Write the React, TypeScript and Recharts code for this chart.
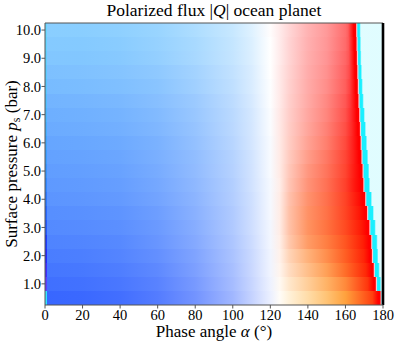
import { ScatterChart, Scatter, XAxis, YAxis, ReferenceArea, ReferenceLine } from 'recharts';

// surface pressure of each row (bar), bottom to top
const pressures = [0.5, 1.0, 1.5, 2.0, 2.5, 3.0, 3.5, 4.0, 4.5, 5.0, 5.5, 6.0, 6.5, 7.0, 7.5, 8.0, 8.5, 9.0, 9.5, 10.0];
const xTicks = [0, 20, 40, 60, 80, 100, 120, 140, 160, 180];
const yTicks = [1, 2, 3, 4, 5, 6, 7, 8, 9, 10];

// phase angles where the rows are sampled
const alphaKnots = [1, 20, 40, 60, 80, 100, 110, 120, 125, 130, 140, 150, 160];

// signed, normalised Q at each knot (negative = blue, positive = warm)
const qValues = [
  [-0.78, -0.77, -0.74, -0.67, -0.55, -0.37, -0.23, -0.08, 0.03, 0.15, 0.34, 0.54, 0.76],
  [-0.75, -0.74, -0.71, -0.65, -0.53, -0.35, -0.22, -0.07, 0.05, 0.2, 0.4, 0.6, 0.77],
  [-0.73, -0.72, -0.69, -0.63, -0.51, -0.34, -0.21, -0.06, 0.07, 0.24, 0.46, 0.66, 0.84],
  [-0.71, -0.7, -0.67, -0.61, -0.5, -0.33, -0.21, -0.06, 0.08, 0.28, 0.52, 0.7, 0.86],
  [-0.69, -0.68, -0.66, -0.59, -0.48, -0.32, -0.2, -0.05, 0.09, 0.32, 0.6, 0.74, 0.87],
  [-0.67, -0.66, -0.64, -0.58, -0.47, -0.31, -0.19, -0.05, 0.1, 0.34, 0.62, 0.75, 0.87],
  [-0.66, -0.65, -0.63, -0.57, -0.46, -0.31, -0.19, -0.04, 0.1, 0.34, 0.6, 0.72, 0.86],
  [-0.64, -0.63, -0.61, -0.55, -0.45, -0.3, -0.19, -0.04, 0.1, 0.32, 0.57, 0.7, 0.85],
  [-0.63, -0.62, -0.6, -0.54, -0.44, -0.3, -0.18, -0.04, 0.09, 0.29, 0.53, 0.67, 0.83],
  [-0.62, -0.61, -0.59, -0.53, -0.43, -0.29, -0.18, -0.03, 0.1, 0.27, 0.5, 0.64, 0.81],
  [-0.61, -0.6, -0.58, -0.52, -0.43, -0.29, -0.18, -0.03, 0.1, 0.25, 0.46, 0.61, 0.79],
  [-0.6, -0.59, -0.57, -0.52, -0.42, -0.28, -0.17, -0.03, 0.1, 0.23, 0.42, 0.57, 0.76],
  [-0.58, -0.57, -0.55, -0.5, -0.41, -0.27, -0.17, -0.02, 0.1, 0.22, 0.39, 0.54, 0.73],
  [-0.57, -0.56, -0.54, -0.49, -0.4, -0.27, -0.17, -0.02, 0.1, 0.21, 0.37, 0.51, 0.7],
  [-0.55, -0.54, -0.52, -0.47, -0.39, -0.26, -0.16, -0.01, 0.09, 0.2, 0.35, 0.49, 0.67],
  [-0.53, -0.52, -0.5, -0.46, -0.37, -0.25, -0.15, -0.01, 0.09, 0.19, 0.34, 0.46, 0.64],
  [-0.51, -0.5, -0.48, -0.44, -0.36, -0.24, -0.15, 0.0, 0.09, 0.18, 0.33, 0.44, 0.62],
  [-0.49, -0.49, -0.47, -0.42, -0.34, -0.23, -0.14, 0.0, 0.08, 0.17, 0.32, 0.42, 0.6],
  [-0.48, -0.48, -0.46, -0.41, -0.34, -0.23, -0.14, 0.0, 0.08, 0.17, 0.31, 0.41, 0.58],
  [-0.46, -0.46, -0.44, -0.4, -0.32, -0.22, -0.13, 0.01, 0.08, 0.16, 0.3, 0.4, 0.57],
];

// hue of the blue side, one per row
const blueHue = [226, 225, 224, 223, 222, 221, 220, 219, 218, 217, 216, 215, 214, 213, 212, 210, 209, 207, 206, 205];

// hue of the warm side at 125, 130, 140, 150, 160 and just before the peak
const warmHue = [
  [38, 38, 36, 34, 31, 12],
  [32, 32, 31, 30, 24, 10],
  [24, 26, 27, 26, 19, 8],
  [20, 24, 25, 22, 16, 7],
  [18, 20, 21, 19, 14, 6],
  [16, 18, 19, 16, 11, 5],
  [15, 17, 17, 14, 9, 4],
  [14, 15, 15, 12, 8, 3],
  [13, 13, 12, 10, 6, 2],
  [12, 12, 11, 9, 6, 2],
  [11, 11, 10, 8, 5, 2],
  [9, 9, 8, 7, 4, 1],
  [7, 7, 6, 5, 3, 1],
  [5, 5, 4, 4, 2, 0],
  [4, 4, 3, 3, 1, 0],
  [3, 3, 2, 2, 1, 0],
  [2, 2, 1, 1, 0, 0],
  [1, 1, 1, 0, 0, 0],
  [0, 0, 0, 0, 0, 0],
  [0, 0, 0, 0, 0, 0],
];

// Q four degrees before the peak
const preRedQ = [0.94, 0.95, 0.97, 0.97, 0.98, 0.98, 0.97, 0.96, 0.95, 0.93, 0.9, 0.88, 0.85, 0.82, 0.78, 0.74, 0.7, 0.67, 0.65, 0.63];
// phase angle where the red maximum ends
const peakAlpha = [178.4, 175.9, 174.8, 173.8, 173.4, 172.4, 171.2, 170.2, 169.2, 168.8, 168.2, 167.8, 167.4, 167.0, 166.6, 166.3, 166.0, 165.8, 165.6, 165.4];
// width (deg) of the sign-flip band after the peak
const cyanWidth = [0.6, 1.2, 1.5, 1.8, 1.8, 1.8, 2.0, 2.0, 2.0, 2.0, 2.0, 1.8, 1.6, 1.4, 1.2, 1.0, 0.9, 0.8, 0.8, 0.8];

// first column (alpha = 0)
const firstColumnQ = [-0.8, -0.76, -0.82, -0.86, -0.88, -0.86, -0.84, -0.82, -0.8, -0.78, -0.76, -0.74, -0.72, -0.7, -0.68, -0.66, -0.64, -0.62, -0.6, -0.58];
const firstColumnHue = [188, 250, 245, 238, 232, 225, 222, 218, 215, 212, 210, 208, 206, 204, 202, 200, 199, 198, 197, 196];

const RED = 'hsl(0, 100%, 50%)';
const PINK = 'hsl(350, 100%, 90%)';
const CYAN = 'hsl(184, 100%, 55%)';
const LIGHT = 'hsl(185, 100%, 94%)';
const FONT = '"Liberation Serif", "Times New Roman", serif';
const TICK_SIZE = 14.5;

const toColor = (q: number, hue: number) => `hsl(${hue}, 100%, ${100 - 50 * Math.abs(q)}%)`;

function rowStops(i: number) {
  const stops: { offset: number; color: string }[] = [];
  const add = (alpha: number, color: string) =>
    stops.push({ offset: Math.min(Math.max(alpha / 180, 0), 1), color });

  const first = toColor(firstColumnQ[i], firstColumnHue[i]);
  add(0, first);
  add(1, first);
  alphaKnots.forEach((a, j) => {
    const q = qValues[i][j];
    const hue = q < 0 ? blueHue[i] : warmHue[i][Math.max(0, j - 8)];
    add(a, toColor(q, hue));
  });
  const peak = peakAlpha[i];
  const cw = cyanWidth[i];
  add(peak - 4, toColor(preRedQ[i], warmHue[i][5]));
  add(peak - 1, RED);
  add(peak, RED);
  add(peak + 0.6, PINK);
  add(peak + 1.2, CYAN);
  add(peak + 1.2 + cw, CYAN);
  add(peak + 2 + cw, LIGHT);
  add(180, LIGHT);
  return stops;
}

const rowPoints = pressures.map((p) => ({ alpha: 0, p }));

const XTick = ({ x, y, payload }: any) => (
  <text x={x} y={y} dy="0.71em" textAnchor="middle" fontSize={TICK_SIZE} fontFamily={FONT} fill="#000">
    {payload.value}
  </text>
);

const YTick = ({ x, y, payload }: any) => (
  <text x={x} y={y} dy="0.36em" textAnchor="end" fontSize={TICK_SIZE} fontFamily={FONT} fill="#000">
    {Number(payload.value).toFixed(1)}
  </text>
);

export default function App() {
  return (
    <div style={{ position: 'absolute', left: 0, top: 0, fontFamily: FONT }}>
      <ScatterChart width={399} height={343} margin={{ top: 23, right: 16, bottom: 0, left: 0 }}>
        <defs>
          {pressures.map((p, i) => (
            <linearGradient key={p} id={`row-${i}`} x1="0" y1="0" x2="1" y2="0">
              {rowStops(i).map((s, k) => (
                <stop key={k} offset={s.offset} stopColor={s.color} />
              ))}
            </linearGradient>
          ))}
        </defs>
        {pressures.map((p, i) => (
          <ReferenceArea
            key={p}
            x1={0}
            x2={180}
            y1={p - 0.25}
            y2={p + 0.25}
            fill={`url(#row-${i})`}
            fillOpacity={1}
            stroke="none"
            shapeRendering="crispEdges"
          />
        ))}
        <XAxis
          type="number"
          dataKey="alpha"
          domain={[0, 180]}
          ticks={xTicks}
          height={38}
          tickSize={3.5}
          tickMargin={1}
          stroke="#555"
          tick={<XTick />}
        />
        <YAxis
          type="number"
          dataKey="p"
          domain={[0.25, 10.25]}
          ticks={yTicks}
          width={45}
          tickSize={3.5}
          tickMargin={0.5}
          stroke="#555"
          tick={<YTick />}
        />
        <ReferenceLine y={10.25} stroke="#555" strokeWidth={1} />
        <ReferenceLine x={180} stroke="#000" strokeWidth={2.6} />
        <Scatter data={rowPoints} shape={() => <g />} isAnimationActive={false} />
        <text x={214} y={16} textAnchor="middle" fontSize={17.5} fontFamily={FONT} fill="#000">
          Polarized flux |<tspan fontStyle="italic">Q</tspan>| ocean planet
        </text>
        <text x={214} y={337} textAnchor="middle" fontSize={17} fontFamily={FONT} fill="#000">
          Phase angle <tspan fontStyle="italic">α</tspan> (°)
        </text>
        <text
          x={0}
          y={0}
          transform="translate(17, 164) rotate(-90)"
          textAnchor="middle"
          fontSize={17}
          fontFamily={FONT}
          fill="#000"
        >
          Surface pressure <tspan fontStyle="italic">p</tspan>
          <tspan fontSize={12} dy={3}>s</tspan>
          <tspan dy={-3}> (bar)</tspan>
        </text>
      </ScatterChart>
    </div>
  );
}
